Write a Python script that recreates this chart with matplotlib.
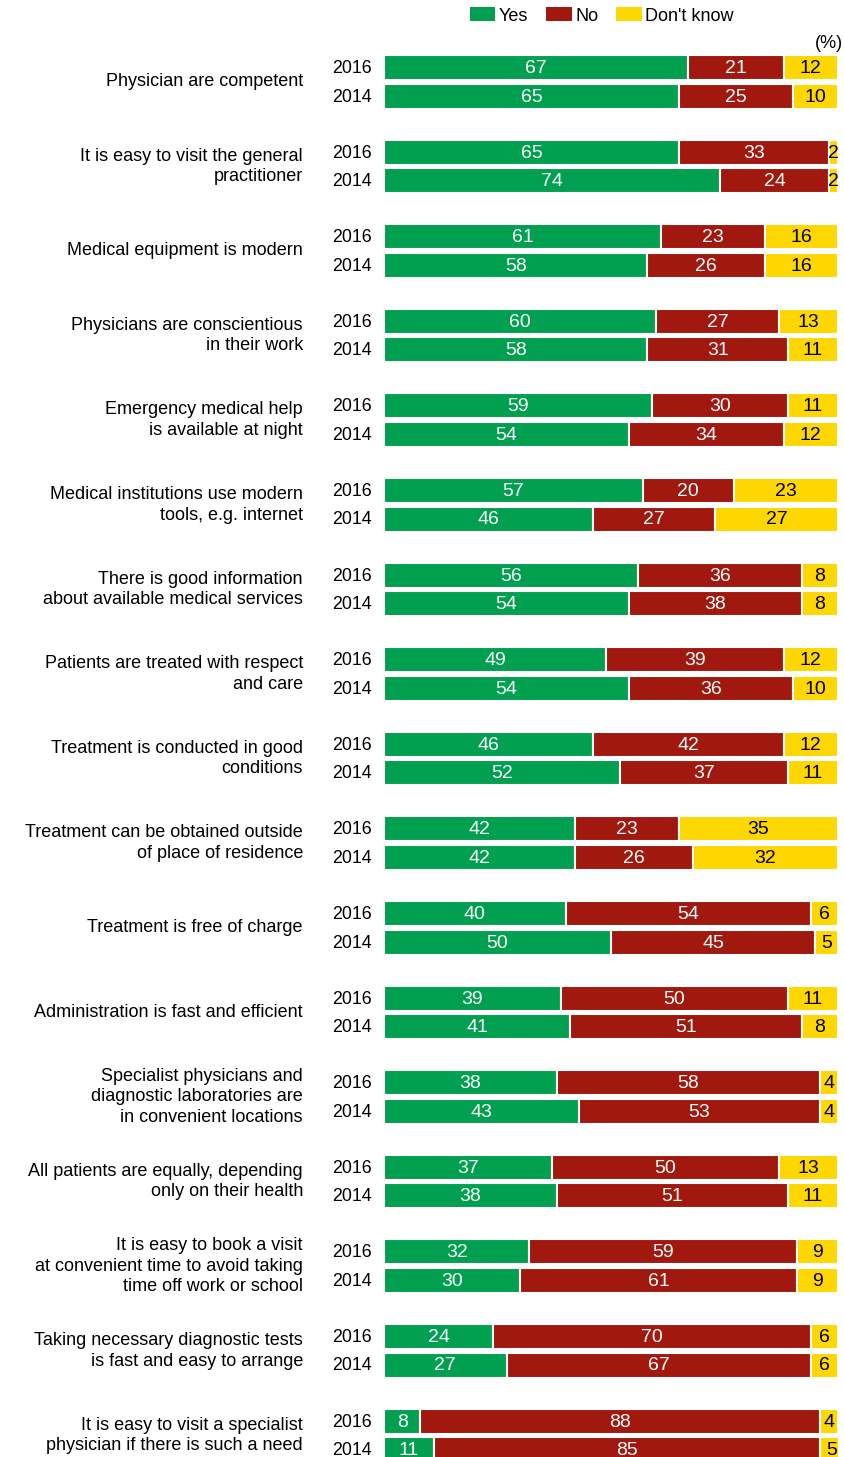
import matplotlib
matplotlib.use("Agg")
import matplotlib.pyplot as plt
from matplotlib.patches import Patch

plt.rcParams["font.family"] = ["Liberation Sans", "DejaVu Sans"]

categories = [
    "Physician are competent",
    "It is easy to visit the general\npractitioner",
    "Medical equipment is modern",
    "Physicians are conscientious\nin their work",
    "Emergency medical help\nis available at night",
    "Medical institutions use modern\ntools, e.g. internet",
    "There is good information\nabout available medical services",
    "Patients are treated with respect\nand care",
    "Treatment is conducted in good\nconditions",
    "Treatment can be obtained outside\nof place of residence",
    "Treatment is free of charge",
    "Administration is fast and efficient",
    "Specialist physicians and\ndiagnostic laboratories are\nin convenient locations",
    "All patients are equally, depending\nonly on their health",
    "It is easy to book a visit\nat convenient time to avoid taking\ntime off work or school",
    "Taking necessary diagnostic tests\nis fast and easy to arrange",
    "It is easy to visit a specialist\nphysician if there is such a need",
]
years = ["2016", "2014"]

yes_2016 = [67, 65, 61, 60, 59, 57, 56, 49, 46, 42, 40, 39, 38, 37, 32, 24, 8]
no_2016 = [21, 33, 23, 27, 30, 20, 36, 39, 42, 23, 54, 50, 58, 50, 59, 70, 88]
dk_2016 = [12, 2, 16, 13, 11, 23, 8, 12, 12, 35, 6, 11, 4, 13, 9, 6, 4]

yes_2014 = [65, 74, 58, 58, 54, 46, 54, 54, 52, 42, 50, 41, 43, 38, 30, 27, 11]
no_2014 = [25, 24, 26, 31, 34, 27, 38, 36, 37, 26, 45, 51, 53, 51, 61, 67, 85]
dk_2014 = [10, 2, 16, 11, 12, 27, 8, 10, 11, 32, 5, 8, 4, 11, 9, 6, 5]

series_names = ["Yes", "No", "Don't know"]
colors = ["#00A050", "#A0180E", "#FFD700"]
text_colors = ["white", "white", "black"]

W, H = 845, 1457
fig = plt.figure(figsize=(W / 100, H / 100), dpi=100)
x0, x1 = 384, 838
ax = fig.add_axes([x0 / W, 0, (x1 - x0) / W, 1])
ax.set_xlim(0, 100)
ax.set_ylim(H, 0)
ax.axis("off")

px = (x1 - x0) / 100.0


def to_x(p):
    return (p - x0) / px


pitch = 84.6
first = 67.5
gap = 28.5
bar_h = 25

for i, cat in enumerate(categories):
    y16 = first + i * pitch
    rows = [(y16, [yes_2016[i], no_2016[i], dk_2016[i]]),
            (y16 + gap, [yes_2014[i], no_2014[i], dk_2014[i]])]
    for (y, vals), yr in zip(rows, years):
        left = 0
        for v, c, tc in zip(vals, colors, text_colors):
            ax.barh(y, v, left=left, height=bar_h, color=c,
                    edgecolor="white", linewidth=1.5)
            ax.text(left + v / 2, y + 1, str(v), ha="center", va="center",
                    color=tc, fontsize=14)
            left += v
        ax.text(to_x(372), y + 1, yr, ha="right", va="center", fontsize=12.8)
    ax.text(to_x(303), y16 + gap / 2, cat, ha="right", va="center",
            fontsize=13, linespacing=1.28)

ax.text(to_x(843), 44, "(%)", ha="right", va="center", fontsize=13)

handles = [Patch(facecolor=c, edgecolor="none") for c in colors]
fig.legend(handles, series_names, loc="center", ncol=3,
           bbox_to_anchor=(602 / W, 1 - 16 / H), frameon=False,
           fontsize=13, handlelength=1.4, handleheight=0.8,
           handletextpad=0.2, columnspacing=1.0, borderpad=0)

fig.savefig("out.png", dpi=100)
